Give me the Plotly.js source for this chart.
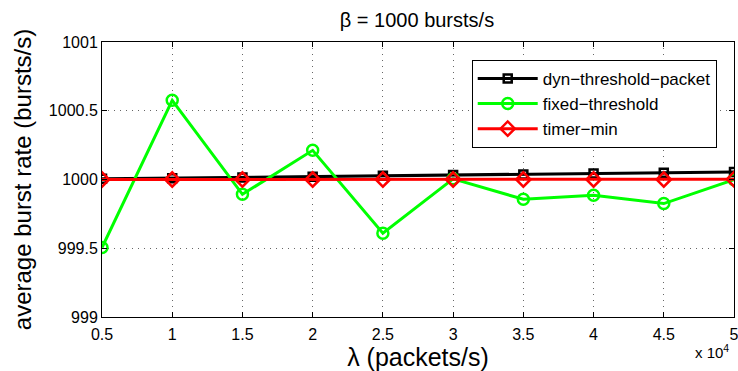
<!DOCTYPE html>
<html>
<head>
<meta charset="utf-8">
<script src="https://cdn.plot.ly/plotly-3.0.1.min.js"></script>
<style>html,body{margin:0;padding:0;background:#fff;}#chart{width:738px;height:371px;}</style>
</head>
<body>
<div id="chart"></div>
<script>
// lambda in units of 10^4 packets/s
const lambda = [0.5, 1, 1.5, 2, 2.5, 3, 3.5, 4, 4.5, 5];
const dynThresholdPacket = [1000.005, 1000.010, 1000.015, 1000.020, 1000.027, 1000.032, 1000.037, 1000.044, 1000.049, 1000.055];
const fixedThreshold = [999.505, 1000.576, 999.892, 1000.212, 999.610, 1000.005, 999.856, 999.885, 999.825, 999.998];
const timerMin = [1000.0, 1000.0, 1000.0, 1000.0, 1000.0, 1000.0, 1000.0, 1000.0, 1000.0, 1000.002];
const xTicks = [0.5, 1, 1.5, 2, 2.5, 3, 3.5, 4, 4.5, 5];
const xTickText = ['0.5', '1', '1.5', '2', '2.5', '3', '3.5', '4', '4.5', '5'];
const yTicks = [999, 999.5, 1000, 1000.5, 1001];
const yTickText = ['999', '999.5', '1000', '1000.5', '1001'];

const font = 'Liberation Sans, Arial, Helvetica, sans-serif';

const traces = [
  {x: lambda, y: dynThresholdPacket, name: 'dyn\u2212threshold\u2212packet', mode: 'lines+markers',
   line: {color: '#000000', width: 3}, marker: {symbol: 'square-open', size: 8, color: '#000000', line: {width: 2.5, color: '#000000'}}},
  {x: lambda, y: fixedThreshold, name: 'fixed\u2212threshold', mode: 'lines+markers',
   line: {color: '#00ff00', width: 3}, marker: {symbol: 'circle-open', size: 11, color: '#00ff00', line: {width: 2.5, color: '#00ff00'}}},
  {x: lambda, y: timerMin, name: 'timer\u2212min', mode: 'lines+markers',
   line: {color: '#ff0000', width: 3}, marker: {symbol: 'diamond-open', size: 11, color: '#ff0000', line: {width: 2.5, color: '#ff0000'}}}
];

const axisCommon = {
  showline: true, linecolor: '#000', linewidth: 1, mirror: 'ticks',
  ticks: 'inside', ticklen: 5, tickcolor: '#000',
  showgrid: true, gridcolor: '#666', griddash: '1px,5px', gridwidth: 1,
  zeroline: false, tickfont: {family: font, size: 16, color: '#000'},
  ticklabeloverflow: 'allow'
};

const layout = {
  width: 738, height: 371,
  margin: {l: 102, r: 4, t: 42, b: 54},
  paper_bgcolor: '#fff', plot_bgcolor: '#fff',
  title: {text: '\u03b2 = 1000 bursts/s', font: {family: font, size: 20, color: '#000'}, x: 0.565, xanchor: 'center', y: 0.946, yanchor: 'middle'},
  xaxis: Object.assign({}, axisCommon, {
    range: [0.5, 5], tickvals: xTicks, ticktext: xTickText, ticklabelstandoff: 3,
    title: {text: '\u03bb (packets/s)', font: {family: font, size: 25, color: '#000'}, standoff: 0}
  }),
  yaxis: Object.assign({}, axisCommon, {
    range: [999, 1001], tickvals: yTicks, ticktext: yTickText,
    title: {text: 'average burst rate (bursts/s)', font: {family: font, size: 24, color: '#000'}, standoff: 10}
  }),
  legend: {x: 0.585, y: 0.935, xanchor: 'left', yanchor: 'top', bgcolor: '#fff', bordercolor: '#000', borderwidth: 1,
    font: {family: font, size: 17, color: '#000'}, tracegroupgap: 0, itemwidth: 60},
  annotations: [{xref: 'paper', yref: 'paper', x: 0.996, y: -0.085, xanchor: 'right', yanchor: 'top', showarrow: false,
    text: 'x 10<sup>4</sup>', font: {family: font, size: 15, color: '#000'}}],
  showlegend: true
};

Plotly.newPlot('chart', traces, layout, {displayModeBar: false, staticPlot: true});
</script>
</body>
</html>
